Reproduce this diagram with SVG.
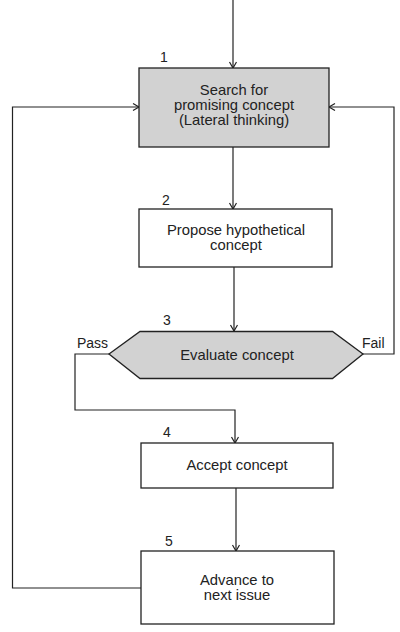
<svg xmlns="http://www.w3.org/2000/svg" width="400" height="632" viewBox="0 0 400 632">
<style>
.box{fill:#fff;stroke:#222;stroke-width:1.3}
.gray{fill:#d2d2d2}
.t{font-family:"Liberation Sans",Arial,sans-serif;font-size:14.8px;fill:#222;text-anchor:middle}
.n{font-family:"Liberation Sans",Arial,sans-serif;font-size:14px;fill:#222}
.c{fill:none;stroke:#222;stroke-width:1.2}
</style>
<defs>
<marker id="arr" markerUnits="userSpaceOnUse" markerWidth="10" markerHeight="10" refX="7" refY="4" orient="auto">
<path d="M1,0.5 L7,4 L1,7.5" fill="none" stroke="#222" stroke-width="1.2"/>
</marker>
</defs>
<rect width="400" height="632" fill="#fff"/>
<g id="connectors">
<path class="c" d="M233,0 V68" marker-end="url(#arr)"/>
<path class="c" d="M233,147 V209" marker-end="url(#arr)"/>
<path class="c" d="M234,267 V331" marker-end="url(#arr)"/>
<path class="c" d="M363,354 H394 V107 H329" marker-end="url(#arr)"/>
<path class="c" d="M109,354 H75 V410 H235 V443" marker-end="url(#arr)"/>
<path class="c" d="M236,488 V551" marker-end="url(#arr)"/>
<path class="c" d="M141,588 H12.5 V107 H139" marker-end="url(#arr)"/>
</g>
<g id="node1">
<rect class="box gray" x="139" y="68" width="190" height="79"/>
<text class="n" x="160" y="62">1</text>
<text class="t" x="234" y="95">Search for</text>
<text class="t" x="234" y="110">promising concept</text>
<text class="t" x="234" y="125">(Lateral thinking)</text>
</g>
<g id="node2">
<rect class="box" x="139" y="209" width="193" height="58"/>
<text class="n" x="162" y="205">2</text>
<text class="t" x="236" y="235">Propose hypothetical</text>
<text class="t" x="236" y="250">concept</text>
</g>
<g id="node3">
<polygon class="box gray" points="109,354 140,331.5 332.5,331.5 363,354 332.5,378.5 140,378.5"/>
<text class="n" x="163" y="325">3</text>
<text class="t" x="237" y="360">Evaluate concept</text>
<text class="n" x="77" y="348">Pass</text>
<text class="n" x="362" y="348">Fail</text>
</g>
<g id="node4">
<rect class="box" x="141" y="443" width="192" height="45"/>
<text class="n" x="163" y="437">4</text>
<text class="t" x="237" y="470">Accept concept</text>
</g>
<g id="node5">
<rect class="box" x="141" y="551" width="193" height="73"/>
<text class="n" x="165" y="546">5</text>
<text class="t" x="237" y="585">Advance to</text>
<text class="t" x="237" y="600">next issue</text>
</g>
</svg>
